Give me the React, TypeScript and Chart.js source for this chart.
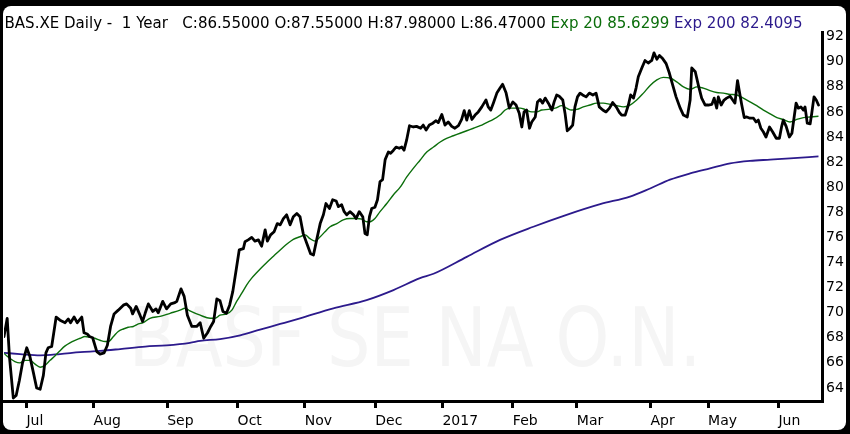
import React, { useEffect, useRef } from "react";
import { Chart, registerables } from "chart.js";

Chart.register(...registerables);

// ---- data (x = trading-day position from 22 Jun 2016, y = price) ----
const monthLabels = ["Jul", "Aug", "Sep", "Oct", "Nov", "Dec", "2017", "Feb", "Mar", "Apr", "May", "Jun"];
const monthStartDays = [7, 28, 51, 73, 94, 116, 137, 159, 179, 202, 220, 242];
const yTickValues = [64, 66, 68, 70, 72, 74, 76, 78, 80, 82, 84, 86, 88, 90, 92];

const closeSeries: [number, number][] = [
  [0, 68.1], [1.0, 69.55], [1.7, 66.5], [2.9, 63.2], [3.8, 63.4], [4.8, 64.6], [5.8, 66.0], [7.1, 67.2],
  [8.1, 66.5], [9.2, 65.2], [10.2, 64.0], [11.3, 63.9], [12.3, 65.0], [13.1, 66.8], [13.8, 67.2], [14.9, 67.3],
  [16.3, 69.65], [17.5, 69.4], [19.1, 69.2], [20.1, 69.5], [20.8, 69.2], [21.9, 69.65], [22.9, 69.2], [24.3, 69.65],
  [25.0, 68.4], [26.0, 68.3], [26.7, 68.1], [27.7, 68.0], [29.0, 66.9], [30.0, 66.7], [31.3, 66.8], [32.3, 67.4],
  [33.3, 68.9], [34.4, 69.9], [35.7, 70.2], [37.3, 70.6], [38.3, 70.7], [39.6, 70.35], [40.2, 69.9], [41.3, 70.5],
  [42.5, 69.8], [43.3, 69.3], [44.1, 69.95], [45.1, 70.7], [46.5, 70.1], [47.5, 70.3], [48.2, 70.0], [49.6, 70.9],
  [50.8, 70.3], [52.1, 70.7], [53.4, 70.8], [54.0, 70.9], [55.3, 71.9], [56.3, 71.3], [57.3, 69.8], [58.7, 68.9],
  [60.2, 68.9], [61.3, 69.2], [62.4, 67.96], [63.6, 68.4], [64.6, 68.9], [65.5, 69.3], [66.5, 71.1], [67.5, 70.95],
  [68.4, 70.1], [69.5, 69.95], [70.5, 70.6], [71.5, 71.7], [72.6, 73.5], [73.5, 75.0], [74.8, 75.1], [75.3, 75.65],
  [76.3, 75.8], [77.4, 76.0], [78.4, 75.7], [79.5, 75.8], [80.5, 75.3], [81.6, 76.6], [82.3, 75.7], [83.3, 76.2],
  [84.4, 76.45], [85.4, 77.1], [86.3, 77.0], [87.3, 77.5], [88.3, 77.8], [89.4, 77.0], [90.4, 77.65], [91.5, 77.9],
  [92.5, 77.65], [93.5, 76.3], [94.8, 75.4], [95.8, 74.7], [96.7, 74.6], [97.7, 75.8], [98.8, 77.1], [99.8, 77.8],
  [100.6, 78.7], [101.7, 78.3], [102.7, 79.0], [103.8, 78.9], [104.5, 78.45], [105.5, 78.6], [106.3, 78.05], [107.1, 77.8],
  [108.1, 78.05], [109.2, 77.8], [110.0, 77.5], [111.0, 78.05], [112.1, 77.65], [112.8, 76.3], [113.5, 76.2], [114.2, 77.65],
  [114.9, 78.3], [115.9, 78.4], [116.7, 79.0], [117.5, 80.45], [118.3, 80.6], [119.1, 82.2], [120.1, 82.8], [120.8, 82.7],
  [121.7, 82.95], [122.5, 83.2], [123.5, 83.1], [124.3, 83.2], [125.0, 82.95], [125.8, 83.75], [126.7, 84.9], [127.9, 84.8],
  [128.9, 84.85], [130.2, 84.7], [131.0, 84.95], [131.9, 84.55], [132.9, 84.95], [134.0, 85.1], [135.0, 85.3], [135.7, 85.15],
  [136.8, 85.8], [137.8, 84.95], [138.8, 85.2], [139.9, 84.85], [140.9, 84.7], [142.0, 84.9], [143.0, 85.4], [143.8, 86.1],
  [144.6, 85.35], [145.4, 86.1], [146.2, 85.4], [147.2, 85.75], [148.2, 86.0], [149.3, 86.4], [150.0, 86.7], [150.6, 86.95],
  [151.3, 86.4], [152.1, 86.15], [152.9, 86.7], [154.0, 87.5], [155.0, 87.9], [155.8, 88.2], [156.9, 87.5], [157.9, 86.3],
  [159.0, 86.8], [160.0, 86.55], [161.0, 85.9], [161.8, 84.8], [162.5, 86.0], [163.3, 86.15], [164.2, 84.7], [164.9, 85.2],
  [166.0, 85.6], [166.7, 86.8], [167.5, 87.0], [168.3, 86.7], [169.1, 87.1], [170.1, 86.7], [171.2, 86.15], [171.9, 86.8],
  [172.7, 87.35], [173.5, 87.25], [174.6, 86.95], [175.3, 85.9], [176.0, 84.5], [176.9, 84.7], [177.7, 84.95], [178.4, 86.4],
  [179.2, 87.2], [180.0, 87.5], [180.8, 87.35], [181.9, 87.2], [182.9, 87.5], [184.0, 87.35], [185.0, 87.5], [186.0, 86.4],
  [187.1, 86.15], [188.1, 86.0], [189.2, 86.3], [190.2, 86.75], [191.3, 86.4], [192.3, 85.95], [193.0, 85.75], [194.1, 85.75],
  [195.1, 86.55], [195.8, 87.35], [196.7, 87.1], [197.5, 87.9], [198.2, 88.8], [199.3, 89.5], [200.3, 90.1], [201.3, 89.9],
  [202.4, 90.1], [203.1, 90.7], [204.0, 90.2], [204.8, 90.5], [205.8, 90.25], [206.9, 89.85], [207.9, 89.1], [209.0, 88.1],
  [210.0, 87.2], [211.3, 86.3], [212.3, 85.75], [213.5, 85.6], [214.4, 86.95], [214.9, 89.5], [216.0, 89.2], [217.0, 88.1],
  [218.0, 87.1], [219.1, 86.55], [220.1, 86.55], [221.2, 86.6], [221.9, 87.1], [222.7, 86.3], [223.2, 87.2], [224.1, 86.55],
  [225.0, 86.95], [225.8, 87.1], [226.9, 87.25], [227.7, 86.95], [228.4, 86.7], [229.2, 88.5], [229.8, 87.6], [230.5, 86.6],
  [231.3, 85.55], [232.1, 85.6], [233.1, 85.5], [234.2, 85.5], [235.0, 85.2], [235.7, 85.35], [236.5, 84.7], [237.3, 84.4],
  [238.1, 84.0], [239.2, 84.8], [240.2, 84.4], [241.3, 83.9], [242.3, 83.9], [243.0, 84.85], [243.5, 85.35], [244.4, 84.85],
  [245.4, 84.0], [246.2, 84.3], [246.9, 85.6], [247.5, 86.7], [248.2, 86.3], [249.0, 86.4], [249.8, 86.15], [250.3, 86.4],
  [251.0, 85.1], [251.9, 85.05], [252.4, 85.9], [253.1, 87.2], [253.8, 86.95], [254.5, 86.55],
];

const ema20Series: [number, number][] = [
  [0, 66.75], [1.9, 66.35], [3.4, 66.1], [5.0, 66.0], [6.6, 66.2], [8.1, 66.2], [9.7, 65.9], [11.3, 65.65],
  [12.8, 65.8], [14.4, 66.2], [15.9, 66.55], [17.5, 66.97], [19.1, 67.35], [20.6, 67.6], [22.2, 67.8], [23.8, 67.96],
  [25.3, 68.1], [26.9, 68.04], [28.4, 67.96], [30.0, 67.8], [31.6, 67.7], [32.6, 67.7], [34.2, 68.1], [35.7, 68.5],
  [37.3, 68.7], [38.8, 68.84], [40.4, 68.9], [42.0, 69.1], [43.5, 69.2], [45.6, 69.55], [48.8, 69.7], [51.9, 69.95],
  [55.0, 70.2], [56.6, 70.35], [58.1, 70.15], [61.3, 69.8], [64.4, 69.55], [65.9, 69.55], [67.5, 69.8], [69.6, 69.9],
  [71.2, 70.2], [72.7, 70.9], [74.3, 71.55], [75.8, 72.2], [77.4, 72.75], [79.0, 73.2], [80.5, 73.6], [82.1, 74.0],
  [84.2, 74.5], [86.3, 75.0], [88.3, 75.45], [90.4, 75.85], [92.5, 76.05], [94.1, 76.2], [95.6, 75.9], [97.2, 75.7],
  [98.8, 76.05], [100.3, 76.45], [101.9, 76.85], [104.0, 77.1], [106.0, 77.4], [108.1, 77.5], [110.2, 77.5], [111.8, 77.45],
  [113.3, 77.25], [114.4, 77.25], [115.9, 77.5], [117.5, 78.05], [119.6, 78.7], [121.7, 79.4], [123.8, 80.0], [125.8, 80.8],
  [127.9, 81.5], [130.0, 82.15], [132.1, 82.8], [134.2, 83.2], [136.3, 83.6], [138.3, 83.9], [140.4, 84.1], [142.5, 84.3],
  [144.6, 84.5], [146.7, 84.7], [148.8, 84.9], [150.8, 85.15], [152.9, 85.4], [155.0, 85.75], [156.6, 86.15], [158.1, 86.3],
  [159.7, 86.3], [161.3, 86.3], [162.8, 86.2], [164.9, 86.0], [166.5, 86.0], [168.0, 86.15], [170.1, 86.2], [172.2, 86.3],
  [174.3, 86.5], [175.8, 86.3], [177.4, 86.15], [179.0, 86.2], [181.0, 86.4], [183.1, 86.55], [185.2, 86.7], [187.3, 86.7],
  [189.4, 86.6], [191.5, 86.5], [193.5, 86.4], [195.6, 86.55], [197.7, 86.95], [199.8, 87.5], [201.9, 88.1], [204.0, 88.55],
  [206.0, 88.75], [208.1, 88.7], [210.2, 88.4], [212.3, 88.0], [214.4, 87.8], [216.5, 88.0], [218.5, 87.9], [220.6, 87.7],
  [222.7, 87.55], [224.8, 87.5], [226.9, 87.4], [229.0, 87.35], [231.0, 87.1], [233.1, 86.8], [235.2, 86.5], [237.3, 86.15],
  [239.4, 85.85], [241.5, 85.55], [243.5, 85.4], [245.6, 85.2], [247.7, 85.4], [249.8, 85.55], [251.9, 85.6], [254.5, 85.65],
];

const ema200Series: [number, number][] = [
  [0, 66.8], [5.0, 66.7], [11.3, 66.6], [17.5, 66.7], [23.8, 66.85], [30.0, 66.95], [36.3, 67.1], [44.1, 67.3],
  [50.8, 67.4], [58.1, 67.6], [61.3, 67.75], [67.5, 67.9], [73.8, 68.2], [80.0, 68.65], [86.3, 69.1], [92.5, 69.55],
  [102.9, 70.35], [113.3, 71.0], [121.7, 71.8], [130.0, 72.75], [134.2, 73.1], [144.6, 74.45], [155.0, 75.8], [165.4, 76.85],
  [175.8, 77.8], [186.3, 78.65], [195.6, 79.25], [201.9, 79.9], [208.1, 80.6], [214.4, 81.1], [220.6, 81.5], [226.9, 81.9],
  [233.1, 82.1], [239.4, 82.2], [245.6, 82.3], [254.5, 82.45],
];

const titleText = "BAS.XE Daily -  1 Year   C:86.55000 O:87.55000 H:87.98000 L:86.47000 ";
const ema20Text = "Exp 20 85.6299 ";
const ema200Text = "Exp 200 82.4095";
const watermarkText = "BASF SE NA O.N.";

const GREEN = "#0b6e0b";
const PURPLE = "#2c1a8c";
const FONT = '"DejaVu Sans", "Noto Sans", sans-serif';

const framePlugin = {
  id: "frame",
  beforeDraw(chart: any) {
    const ctx = chart.ctx as CanvasRenderingContext2D;
    const w = chart.width;
    const h = chart.height;
    ctx.save();
    ctx.fillStyle = "#000";
    ctx.fillRect(0, 0, w, h);
    ctx.fillStyle = "#fff";
    ctx.beginPath();
    (ctx as any).roundRect(3, 6, w - 7, h - 10, 8);
    ctx.fill();
    ctx.restore();
  },
};

const watermarkPlugin = {
  id: "watermark",
  beforeDatasetsDraw(chart: any) {
    const ctx = chart.ctx as CanvasRenderingContext2D;
    const a = chart.chartArea;
    ctx.save();
    ctx.beginPath();
    ctx.rect(a.left, a.top, a.right - a.left, a.bottom - a.top);
    ctx.clip();
    ctx.font = `82px ${FONT}`;
    const m = ctx.measureText(watermarkText);
    const target = (a.right - a.left) * 0.7;
    const sx = target / m.width;
    ctx.translate((a.left + a.right) / 2 + 2, 366);
    ctx.scale(sx, 1);
    ctx.fillStyle = "#f5f5f5";
    ctx.textAlign = "center";
    ctx.textBaseline = "alphabetic";
    ctx.fillText(watermarkText, 0, 0);
    ctx.restore();
  },
};

const titlePlugin = {
  id: "titleLine",
  afterDraw(chart: any) {
    const ctx = chart.ctx as CanvasRenderingContext2D;
    ctx.save();
    ctx.font = `15px ${FONT}`;
    ctx.textBaseline = "alphabetic";
    ctx.textAlign = "left";
    const parts: [string, string][] = [
      [titleText, "#000"],
      [ema20Text, GREEN],
      [ema200Text, PURPLE],
    ];
    const total = parts.reduce((s, p) => s + ctx.measureText(p[0]).width, 0);
    const sx = 798 / total;
    ctx.translate(4.5, 28);
    ctx.scale(sx, 1);
    let x = 0;
    for (const [t, c] of parts) {
      ctx.fillStyle = c;
      ctx.fillText(t, x, 0);
      x += ctx.measureText(t).width;
    }
    ctx.restore();
  },
};

export default function App() {
  const ref = useRef<HTMLCanvasElement | null>(null);

  useEffect(() => {
    if (!ref.current) return;
    const toPts = (s: [number, number][]) => s.map(([x, y]) => ({ x, y }));
    const chart = new Chart(ref.current, {
      type: "line",
      data: {
        datasets: [
          {
            label: "Close",
            data: toPts(closeSeries),
            borderColor: "#000",
            borderWidth: 2.8,
            pointRadius: 0,
            tension: 0,
            borderJoinStyle: "round",
            borderCapStyle: "round",
          },
          {
            label: "Exp 20",
            data: toPts(ema20Series),
            borderColor: GREEN,
            borderWidth: 1.4,
            pointRadius: 0,
            cubicInterpolationMode: "monotone",
          },
          {
            label: "Exp 200",
            data: toPts(ema200Series),
            borderColor: PURPLE,
            borderWidth: 1.8,
            pointRadius: 0,
            cubicInterpolationMode: "monotone",
          },
        ],
      } as any,
      options: {
        animation: false,
        responsive: false,
        maintainAspectRatio: false,
        layout: { padding: { left: 4, top: 32, right: 0, bottom: 0 } },
        plugins: {
          legend: { display: false },
          tooltip: { enabled: false },
          title: { display: false },
        },
        scales: {
          x: {
            type: "linear",
            min: 0,
            max: 255.6,
            afterBuildTicks: (s: any) => {
              s.ticks = monthStartDays.map((v) => ({ value: v }));
            },
            afterFit: (s: any) => {
              s.height = 33;
            },
            grid: {
              display: true,
              drawOnChartArea: false,
              drawTicks: true,
              tickLength: 7,
              tickWidth: 3,
              tickColor: "#000",
              color: "#000",
              lineWidth: 3,
            },
            border: { display: true, color: "#000", width: 3 },
            ticks: {
              autoSkip: false,
              maxRotation: 0,
              minRotation: 0,
              align: "start",
              padding: 5,
              color: "#000",
              font: { family: FONT, size: 14 },
              callback: (_v: any, i: number) => monthLabels[i] ?? "",
            },
          },
          y: {
            type: "linear",
            position: "right",
            min: 62.96,
            max: 92.37,
            afterBuildTicks: (s: any) => {
              s.ticks = yTickValues.map((v) => ({ value: v }));
            },
            afterFit: (s: any) => {
              s.width = 28;
            },
            grid: { display: false, drawTicks: false, drawOnChartArea: false },
            border: { display: true, color: "#000", width: 3 },
            ticks: {
              padding: 4,
              color: "#000",
              font: { family: FONT, size: 14 },
              callback: (v: any) => String(v),
            },
          },
        },
      } as any,
      plugins: [framePlugin, watermarkPlugin, titlePlugin],
    });
    return () => chart.destroy();
  }, []);

  return (
    <div style={{ position: "fixed", left: 0, top: 0, width: 850, height: 434, background: "#000" }}>
      <canvas ref={ref} width={850} height={434} style={{ display: "block", width: 850, height: 434 }} />
    </div>
  );
}
